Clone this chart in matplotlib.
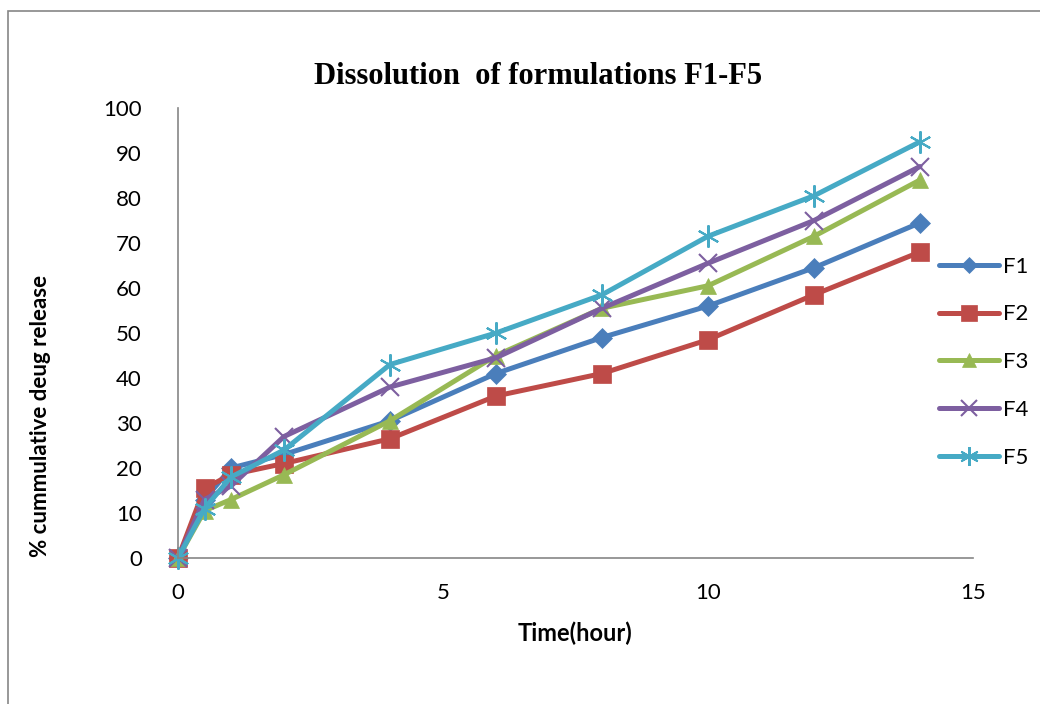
import matplotlib.pyplot as plt
from matplotlib.patches import Rectangle

time_h = [0, 0.5, 1, 2, 4, 6, 8, 10, 12, 14]

f1 = [0, 13, 20, 23, 30.5, 41, 49, 56, 64.5, 74.5]
f2 = [0, 15.5, 18.5, 21, 26.5, 36, 41, 48.5, 58.5, 68]
f3 = [0, 10.5, 13, 18.5, 30.5, 45, 55.5, 60.5, 71.5, 84]
f4 = [0, 13, 16, 27, 38, 44.5, 55.5, 65.5, 75, 87]
f5 = [0, 11, 18, 24, 43, 50, 58.5, 71.5, 80.5, 92.5]

names = ["F1", "F2", "F3", "F4", "F5"]
colors = ["#4a7ebb", "#be4b48", "#98b954", "#7d5fa0", "#46aac5"]
markers = ["D", "s", "^", "x", (6, 2, 0)]
sizes = [10, 13, 12, 13, 16]

fig = plt.figure(figsize=(10.4, 7.04), dpi=100)
fig.patches.append(Rectangle((8 / 1040, -0.01), 1.1, 1 - 11 / 704 + 0.01,
                             transform=fig.transFigure, fill=False,
                             edgecolor="#868686", linewidth=1.2))
ax = fig.add_axes([178 / 1040, 1 - 558 / 704, (973 - 178) / 1040, (558 - 108) / 704])

series = [f1, f2, f3, f4, f5]
for vals, name, c, m, s in zip(series, names, colors, markers, sizes):
    ax.plot(time_h, vals, color=c, linewidth=3.6, marker=m, markersize=s,
            markeredgewidth=1.5 if m in ("x", (6, 2, 0)) else 0.5,
            markeredgecolor=c, label=name, solid_capstyle="round",
            clip_on=False)

ax.set_xlim(0, 15)
ax.set_ylim(0, 100)
ax.set_xticks([0, 5, 10, 15])
ax.set_yticks(range(0, 101, 10))
ax.tick_params(axis="y", length=0, labelsize=16, pad=26)
ax.tick_params(axis="x", length=0, labelsize=16, pad=18)
for lbl in ax.get_xticklabels() + ax.get_yticklabels():
    lbl.set_family("Lato")
for side in ("top", "right"):
    ax.spines[side].set_visible(False)
for side in ("left", "bottom"):
    ax.spines[side].set_color("#868686")
    ax.spines[side].set_linewidth(1.2)

ax.set_xlabel("Time(hour)", fontsize=17, fontweight="bold", family="Lato", labelpad=13)
ax.set_ylabel("% cummulative deug release", fontsize=16, fontweight="bold",
              family="Lato")
ax.yaxis.set_label_coords(-0.16, 0.316)
fig.text(538 / 1040, 1 - 77 / 704, "Dissolution  of formulations F1-F5",
         ha="center", va="center", fontsize=22, fontweight="bold",
         family="Liberation Serif")

leg = ax.legend(loc="center left", bbox_to_anchor=(0.932, 0.435), frameon=False,
                prop={"family": "Lato", "size": 16}, handlelength=2.7,
                labelspacing=1.25, handletextpad=0.2, markerscale=0.85)

fig.savefig("out.png", dpi=100)
